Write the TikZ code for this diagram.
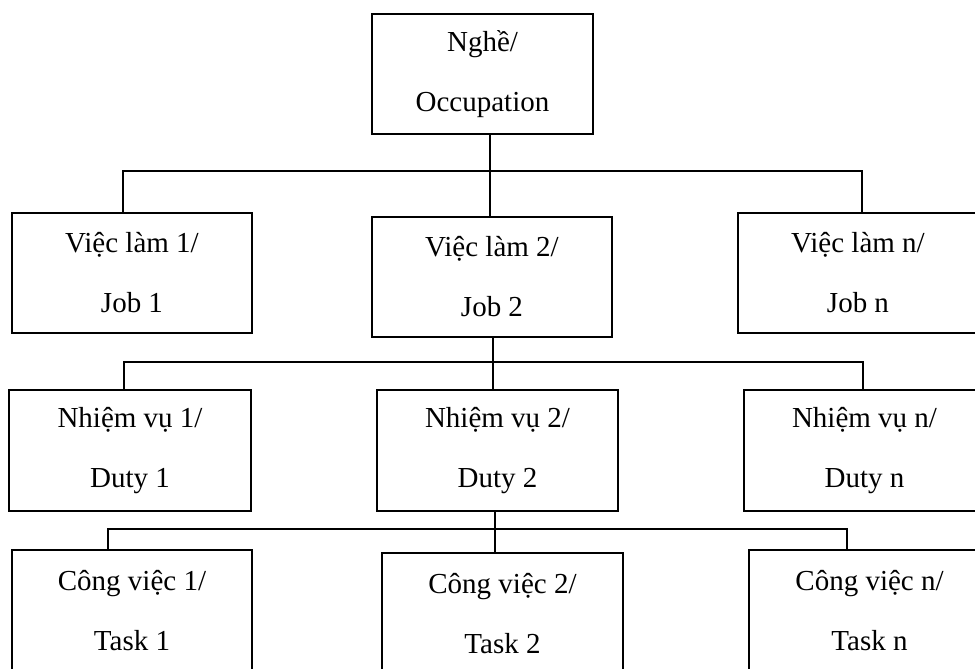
\documentclass[tikz,border=0pt]{standalone}
\usepackage{fontspec}
\setmainfont{Liberation Serif}
\begin{document}
\begin{tikzpicture}[x=1pt,y=-1pt,
  box/.style={draw=black, line width=2pt, inner sep=0pt, align=center,
    minimum width=240pt, minimum height=120pt,
    font=\fontsize{29}{60}\selectfont},
  link/.style={draw=black, line width=2pt}]
\useasboundingbox (0,0) rectangle (975,669);
\clip (0,0) rectangle (975,669);
% level 0
\node[box, minimum width=221pt] (occ) at (482.5,74) {Nghề/\\Occupation};
% level 1
\node[box] (job1) at (132,273) {Việc làm 1/\\Job 1};
\node[box] (job2) at (492,277) {Việc làm 2/\\Job 2};
\node[box] (jobn) at (858,273) {Việc làm n/\\Job n};
% level 2
\node[box, minimum width=242pt, minimum height=121pt] (duty1) at (130,450.5) {Nhiệm vụ 1/\\Duty 1};
\node[box, minimum width=241pt, minimum height=121pt] (duty2) at (497.5,450.5) {Nhiệm vụ 2/\\Duty 2};
\node[box, minimum width=241pt, minimum height=121pt] (dutyn) at (864.5,450.5) {Nhiệm vụ n/\\Duty n};
% level 3
\node[box, minimum height=122pt] (task1) at (132,611) {Công việc 1/\\Task 1};
\node[box, minimum width=241pt, minimum height=122pt] (task2) at (502.5,614) {Công việc 2/\\Task 2};
\node[box, minimum width=241pt, minimum height=122pt] (taskn) at (869.5,611) {Công việc n/\\Task n};
% bus coordinates
\coordinate (a) at (490,171);
\coordinate (aL) at (123,171);
\coordinate (aR) at (862,171);
\coordinate (b) at (493,362);
\coordinate (bL) at (124,362);
\coordinate (bR) at (863,362);
\coordinate (c) at (495,529);
\coordinate (cL) at (108,529);
\coordinate (cR) at (847,529);
% level 0 -> 1
\draw[link] (occ.south -| a) -- (job2.north -| a);
\draw[link] (job1.north -| aL) -- (aL) -- (aR) -- (jobn.north -| aR);
% level 1 -> 2
\draw[link] (job2.south -| b) -- (duty2.north -| b);
\draw[link] (duty1.north -| bL) -- (bL) -- (bR) -- (dutyn.north -| bR);
% level 2 -> 3
\draw[link] (duty2.south -| c) -- (task2.north -| c);
\draw[link] (task1.north -| cL) -- (cL) -- (cR) -- (taskn.north -| cR);
\end{tikzpicture}
\end{document}
